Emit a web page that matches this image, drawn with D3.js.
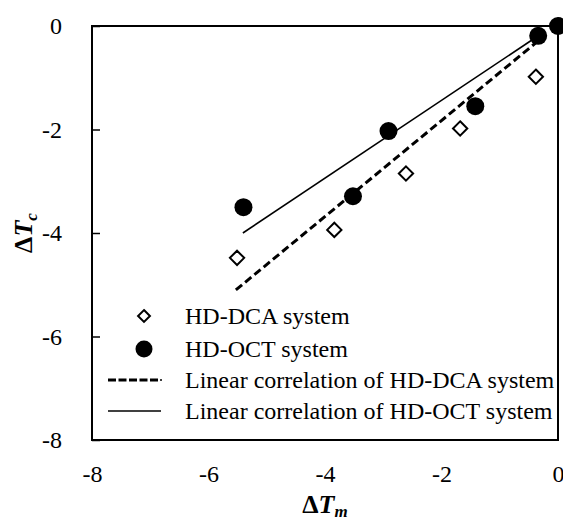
<!DOCTYPE html>
<html>
<head>
<meta charset="utf-8">
<script src="https://cdn.jsdelivr.net/npm/d3@7"></script>
<style>
  body { margin: 0; background: #fff; }
  text { font-family: "Times New Roman", "Liberation Serif", serif; fill: #000; }
</style>
</head>
<body>
<svg width="563" height="523"></svg>
<script>
// HD-DCA system (open diamonds)
var dcaX = [-5.51, -3.84, -2.61, -1.68, -0.38, 0];
var dcaY = [-4.48, -3.94, -2.85, -1.98, -0.98, 0];
// HD-OCT system (filled circles)
var octX = [-5.40, -3.52, -2.91, -1.42, -0.34, 0];
var octY = [-3.50, -3.29, -2.03, -1.55, -0.19, 0];
// linear correlation lines (end points)
var dcaFitX = [-5.53, -0.30];
var dcaFitY = [-5.10, -0.25];
var octFitX = [-5.41, -0.30];
var octFitY = [-4.00, -0.16];
// ticks
var xTicks = [-8, -6, -4, -2, 0];
var yTicks = [-8, -6, -4, -2, 0];
var legendLabels = ["HD-DCA system", "HD-OCT system",
  "Linear correlation of HD-DCA system", "Linear correlation of HD-OCT system"];

var svg = d3.select("svg");
var pLeft = 92, pRight = 558, pTop = 26, pBottom = 440;
var serif = '"Times New Roman", "Liberation Serif", serif';

var x = d3.scaleLinear().domain([-8, 0]).range([pLeft, pRight]);
var y = d3.scaleLinear().domain([-8, 0]).range([pBottom, pTop]);
var fmt = function (d) { return String(d); }; // plain hyphen minus like the original

// y axis, ticks pointing inside
var yAxis = svg.append("g")
  .attr("transform", "translate(" + pLeft + ",0)")
  .call(d3.axisLeft(y).tickValues(yTicks).tickFormat(fmt).tickSizeInner(-8).tickSizeOuter(0).tickPadding(30));
yAxis.attr("font-family", serif);
yAxis.select(".domain").remove();
yAxis.selectAll("line").attr("stroke", "#000").attr("stroke-width", 1.5);
yAxis.selectAll("text").style("font-size", "24px").style("font-family", serif);

// x axis, labels only
var xAxis = svg.append("g")
  .attr("transform", "translate(0," + pBottom + ")")
  .call(d3.axisBottom(x).tickValues(xTicks).tickFormat(fmt).tickSize(0).tickPadding(25));
xAxis.attr("font-family", serif);
xAxis.select(".domain").remove();
xAxis.selectAll("text").style("font-size", "24px").style("font-family", serif);

// frame
svg.append("rect")
  .attr("x", pLeft).attr("y", pTop)
  .attr("width", pRight - pLeft).attr("height", pBottom - pTop)
  .attr("fill", "none").attr("stroke", "#000").attr("stroke-width", 2);

// fit lines
var line = d3.line()
  .x(function (d) { return x(d[0]); })
  .y(function (d) { return y(d[1]); });

svg.append("path")
  .datum(dcaFitX.map(function (v, i) { return [v, dcaFitY[i]]; }))
  .attr("d", line)
  .attr("fill", "none").attr("stroke", "#000")
  .attr("stroke-width", 3).attr("stroke-dasharray", "8,4");

svg.append("path")
  .datum(octFitX.map(function (v, i) { return [v, octFitY[i]]; }))
  .attr("d", line)
  .attr("fill", "none").attr("stroke", "#000").attr("stroke-width", 1.6);

// markers
var diamond = d3.symbol().type(d3.symbolDiamond2).size(130);
svg.append("g").selectAll("path")
  .data(dcaX)
  .enter().append("path")
  .attr("d", diamond)
  .attr("transform", function (d, i) { return "translate(" + x(d) + "," + y(dcaY[i]) + ")"; })
  .attr("fill", "#fff").attr("stroke", "#000").attr("stroke-width", 2);

svg.append("g").selectAll("circle")
  .data(octX)
  .enter().append("circle")
  .attr("cx", function (d) { return x(d); })
  .attr("cy", function (d, i) { return y(octY[i]); })
  .attr("r", 9)
  .attr("fill", "#000");

// legend
var rowY = [316, 349, 380, 411];
var leg = svg.append("g");
leg.append("path")
  .attr("d", d3.symbol().type(d3.symbolDiamond2).size(90))
  .attr("transform", "translate(144," + rowY[0] + ")")
  .attr("fill", "#fff").attr("stroke", "#000").attr("stroke-width", 2);
leg.append("circle")
  .attr("cx", 144).attr("cy", rowY[1]).attr("r", 8.5).attr("fill", "#000");
leg.append("line")
  .attr("x1", 108).attr("x2", 158).attr("y1", rowY[2]).attr("y2", rowY[2])
  .attr("stroke", "#000").attr("stroke-width", 3).attr("stroke-dasharray", "8,2.5");
leg.append("circle")
  .attr("cx", 161).attr("cy", rowY[2]).attr("r", 1).attr("fill", "#000");
leg.append("line")
  .attr("x1", 108).attr("x2", 161).attr("y1", rowY[3]).attr("y2", rowY[3])
  .attr("stroke", "#000").attr("stroke-width", 1.6);
leg.selectAll("text.lab")
  .data(legendLabels)
  .enter().append("text")
  .attr("class", "lab")
  .attr("x", 185)
  .attr("y", function (d, i) { return rowY[i]; })
  .attr("dy", "0.35em")
  .style("font-size", "24px")
  .text(function (d) { return d; });

// axis titles
var xt = svg.append("text")
  .attr("x", (pLeft + pRight) / 2).attr("y", 513)
  .attr("text-anchor", "middle")
  .style("font-size", "26px").style("font-weight", "bold");
xt.append("tspan").text("Δ");
xt.append("tspan").style("font-style", "italic").text("T");
xt.append("tspan").style("font-style", "italic").style("font-size", "17px").attr("dy", 4).text("m");

var yt = svg.append("text")
  .attr("transform", "translate(32," + (pTop + pBottom) / 2 + ")rotate(-90)")
  .attr("text-anchor", "middle")
  .style("font-size", "26px").style("font-weight", "bold");
yt.append("tspan").text("Δ");
yt.append("tspan").style("font-style", "italic").text("T");
yt.append("tspan").style("font-style", "italic").style("font-size", "17px").attr("dy", 5).text("c");
</script>
</body>
</html>
